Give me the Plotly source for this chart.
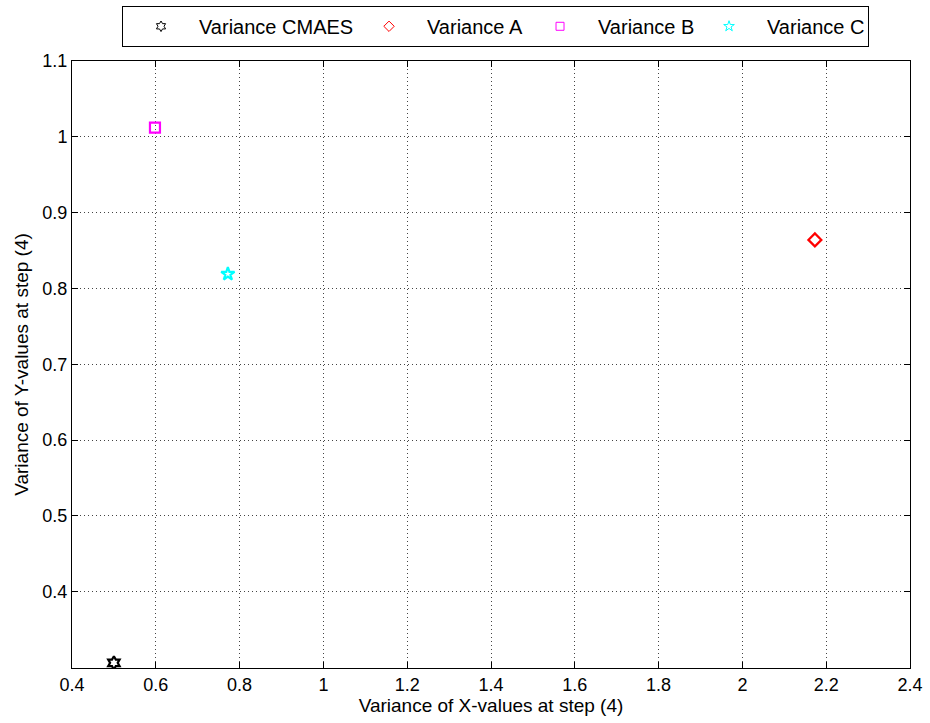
import plotly.graph_objects as go

# Variance of the X and Y values at step 4 for each strategy
names = ["Variance CMAES", "Variance A", "Variance B", "Variance C"]
x_var = [0.500, 2.173, 0.598, 0.772]
y_var = [0.306, 0.864, 1.012, 0.819]
symbols = ["hexagram-open", "diamond-open", "square-open", "star-open"]
colors = ["#000000", "#ff0000", "#ff00ff", "#00ffff"]
legend_entry_widths = [147, 90, 88, 96]

x_ticks = [0.4, 0.6, 0.8, 1.0, 1.2, 1.4, 1.6, 1.8, 2.0, 2.2, 2.4]
x_tick_text = ["0.4", "0.6", "0.8", "1", "1.2", "1.4", "1.6", "1.8", "2", "2.2", "2.4"]
y_ticks = [0.4, 0.5, 0.6, 0.7, 0.8, 0.9, 1.0, 1.1]
y_tick_text = ["0.4", "0.5", "0.6", "0.7", "0.8", "0.9", "1", "1.1"]

FONT = "Liberation Sans, Arial"

fig = go.Figure()
# data markers (bold outlines)
for n, xv, yv, s, c in zip(names, x_var, y_var, symbols, colors):
    fig.add_trace(go.Scatter(
        x=[xv], y=[yv], mode="markers", name=n, showlegend=False,
        marker=dict(symbol=s, size=10, color=c, line=dict(color=c, width=2.2)),
    ))
# thin legend keys
for n, s, c, w in zip(names, symbols, colors, legend_entry_widths):
    fig.add_trace(go.Scatter(
        x=[None], y=[None], mode="markers", name=n, legendwidth=w,
        marker=dict(symbol=s, size=8, color=c, line=dict(color=c, width=1)),
    ))

axis_common = dict(
    showline=True, linecolor="black", linewidth=1, mirror="ticks",
    ticks="inside", ticklen=6, tickcolor="black",
    showgrid=True, gridcolor="#444444", griddash="1px,3px", gridwidth=1,
    zeroline=False, tickfont=dict(family=FONT, size=18, color="black"),
)

fig.update_xaxes(range=[0.4, 2.4], tickvals=x_ticks, ticktext=x_tick_text,
                 title=dict(text="Variance of X-values at step (4)", standoff=5,
                            font=dict(family=FONT, size=19, color="black")),
                 **axis_common)
fig.update_yaxes(range=[0.2992, 1.1], tickvals=y_ticks, ticktext=y_tick_text,
                 title=dict(text="Variance of Y-values at step (4)", standoff=8,
                            font=dict(family=FONT, size=19, color="black")),
                 **axis_common)

fig.update_layout(
    width=930, height=723,
    margin=dict(l=72, r=20, t=61, b=55, autoexpand=False),
    plot_bgcolor="white", paper_bgcolor="white",
    font=dict(family=FONT, size=18, color="black"),
    legend=dict(orientation="h", xref="container", yref="container",
                x=0.1312, xanchor="left", y=0.992, yanchor="top",
                bordercolor="black", borderwidth=1, bgcolor="white",
                font=dict(family=FONT, size=20), itemsizing="trace", itemwidth=66),
)

fig.write_html("out.html")
